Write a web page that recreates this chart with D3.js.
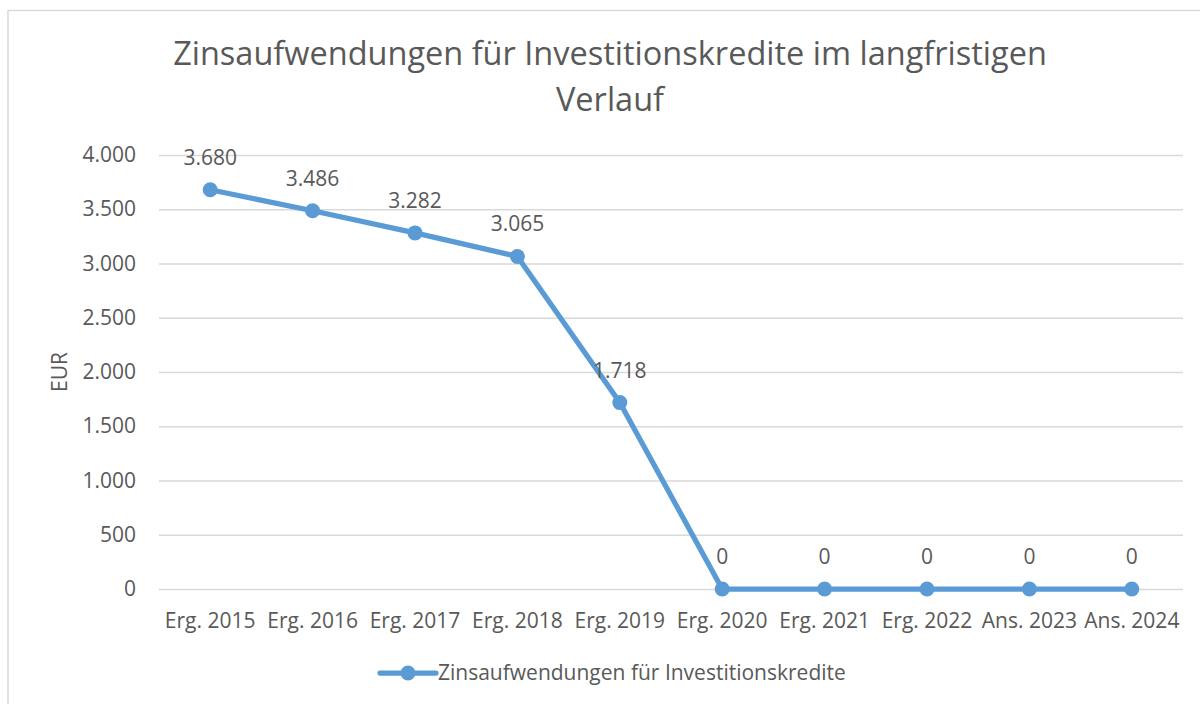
<!DOCTYPE html>
<html>
<head>
<meta charset="utf-8">
<script src="https://cdn.jsdelivr.net/npm/d3@7"></script>
<style>
  body { margin: 0; background: #fff; }
  svg text { font-family: "Open Sans", sans-serif; fill: #595959; }
</style>
</head>
<body>
<svg width="1200" height="704"></svg>
<script>
const categories = ["Erg. 2015", "Erg. 2016", "Erg. 2017", "Erg. 2018", "Erg. 2019",
  "Erg. 2020", "Erg. 2021", "Erg. 2022", "Ans. 2023", "Ans. 2024"];
const values = [3680, 3486, 3282, 3065, 1718, 0, 0, 0, 0, 0];
const yTicks = [0, 500, 1000, 1500, 2000, 2500, 3000, 3500, 4000];
const seriesName = "Zinsaufwendungen für Investitionskredite";
const titleLines = ["Zinsaufwendungen für Investitionskredite im langfristigen", "Verlauf"];

const svg = d3.select("svg");
const blue = "#5B9BD5";
const fmt = d3.formatLocale({ decimal: ",", thousands: ".", grouping: [3], currency: ["", " €"] }).format(",d");

// chart frame
svg.append("rect")
  .attr("x", 8).attr("y", 10.5)
  .attr("width", 1200).attr("height", 700)
  .attr("fill", "none").attr("stroke", "#d9d9d9").attr("stroke-width", 1.5);

const x = d3.scaleBand().domain(categories).range([159, 1183]);
const y = d3.scaleLinear().domain([0, 4000]).range([589, 155]);

// title
svg.append("g").selectAll("text")
  .data(titleLines)
  .enter().append("text")
    .attr("x", 610)
    .attr("y", (d, i) => 65 + i * 46)
    .attr("text-anchor", "middle")
    .style("font-size", "32.5px")
    .text(d => d);

// gridlines + y labels
const yAxis = svg.append("g")
  .attr("transform", "translate(159,0)")
  .call(d3.axisLeft(y).tickValues(yTicks).tickSize(-1024).tickFormat(fmt).tickPadding(23));
yAxis.select(".domain").remove();
yAxis.selectAll("line").attr("stroke", "#d9d9d9").attr("stroke-width", 1.5);
yAxis.selectAll("text").style("font-size", "21px").attr("fill", "#595959");

// x labels
const xAxis = svg.append("g")
  .attr("transform", "translate(0,589)")
  .call(d3.axisBottom(x).tickSize(0).tickPadding(24));
xAxis.select(".domain").remove();
xAxis.selectAll("text").style("font-size", "21px").attr("fill", "#595959");

// axis title
svg.append("text")
  .attr("transform", "translate(67,372) rotate(-90)")
  .attr("text-anchor", "middle")
  .style("font-size", "21px")
  .text("EUR");

const cx = d => x(d) + x.bandwidth() / 2;

// line
svg.append("path")
  .datum(values)
  .attr("fill", "none")
  .attr("stroke", blue)
  .attr("stroke-width", 5.25)
  .attr("stroke-linejoin", "round")
  .attr("d", d3.line().x((d, i) => cx(categories[i])).y(d => y(d)));

svg.append("g").selectAll("circle")
  .data(values)
  .enter().append("circle")
    .attr("cx", (d, i) => cx(categories[i]))
    .attr("cy", d => y(d))
    .attr("r", 7.5)
    .attr("fill", blue);

// data labels
svg.append("g").selectAll("text")
  .data(values)
  .enter().append("text")
    .attr("x", (d, i) => cx(categories[i]))
    .attr("y", d => y(d) - 25)
    .attr("text-anchor", "middle")
    .style("font-size", "21px")
    .attr("fill", "#404040")
    .text(d => fmt(d));

// legend
const lg = svg.append("g").attr("transform", "translate(380,673)");
lg.append("line").attr("x1", 0).attr("x2", 56).attr("stroke", blue).attr("stroke-width", 5.25).attr("stroke-linecap", "round");
lg.append("circle").attr("cx", 28).attr("r", 7.5).attr("fill", blue);
lg.append("text").attr("x", 58).attr("dy", "0.35em").style("font-size", "21px").text(seriesName);
</script>
</body>
</html>
